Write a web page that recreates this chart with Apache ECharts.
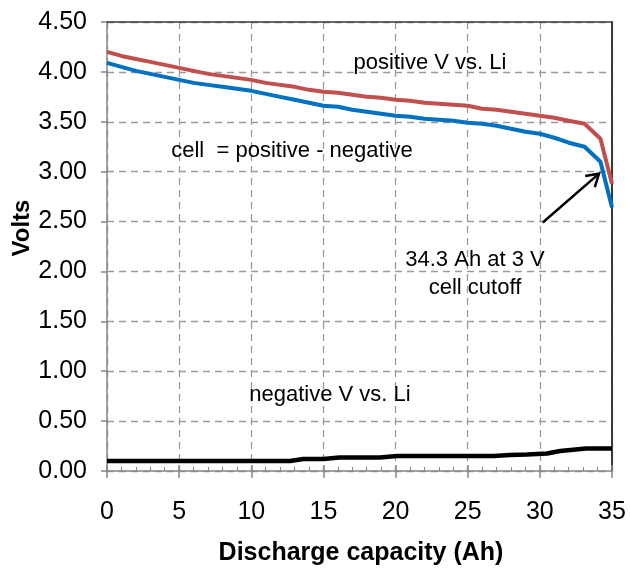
<!DOCTYPE html>
<html>
<head>
<meta charset="utf-8">
<script src="https://cdn.jsdelivr.net/npm/echarts@6/dist/echarts.min.js"></script>
<style>html,body{margin:0;padding:0;background:#fff}#c{width:630px;height:568px}</style>
</head>
<body>
<div id="c"></div>
<script>
var xPos = [0,1,2,3,4,5,6,7,8,9,10,11,12,13,14,15,16,17,18,19,20,21,22,23,24,25,26,27,28,29,30,31,32,33.1,34.2,35];
var posV = [4.20,4.16,4.13,4.10,4.07,4.04,4.01,3.98,3.96,3.94,3.92,3.89,3.87,3.85,3.82,3.80,3.79,3.77,3.75,3.74,3.72,3.71,3.69,3.68,3.67,3.66,3.63,3.62,3.60,3.58,3.56,3.54,3.51,3.48,3.33,2.88];
var xCell = [0,1,2,3,4,5,6,7,8,9,10,11,12,13,14,15,16,17,18,19,20,21,22,23,24,25,26,27,28,29,30,31,32,33.1,34.2,35];
var cellV = [4.09,4.05,4.01,3.98,3.95,3.92,3.89,3.87,3.85,3.83,3.81,3.78,3.75,3.72,3.69,3.66,3.65,3.62,3.60,3.58,3.56,3.55,3.53,3.52,3.51,3.49,3.48,3.46,3.43,3.40,3.38,3.34,3.29,3.25,3.10,2.64];
var xNeg = [0,12.7,13.6,15,16.1,18.9,20.1,26.8,27.9,29.1,30.5,31.4,33.2,35];
var negV = [0.10,0.10,0.12,0.12,0.135,0.135,0.15,0.15,0.16,0.165,0.175,0.20,0.225,0.225];
var xTicks = [0,5,10,15,20,25,30,35];
var yTicks = ['0.00','0.50','1.00','1.50','2.00','2.50','3.00','3.50','4.00','4.50'];
var arrowTail = [30.2, 2.49];
var arrowTip = [34.1, 2.98];

function pairs(xs, ys){ return xs.map(function(x,i){ return [x, ys[i]]; }); }

var FONT = 'Liberation Sans';
var chart = echarts.init(document.getElementById('c'), null, {renderer:'canvas'});
var grid = {left:107, right:18, top:22, bottom:97};
var gridColor = '#9a9a9a';
chart.setOption({
  animation:false,
  grid: grid,
  xAxis: [
    {type:'value', min:0, max:35, interval:5, position:'bottom',
     axisLine:{show:true, onZero:false, lineStyle:{color:'#868686', width:1.5}},
     axisTick:{show:true, inside:false, length:7, lineStyle:{color:'#868686', width:1.5}},
     axisLabel:{show:true, margin:29, fontFamily:FONT, fontSize:25, color:'#000',
       formatter:function(v){ return xTicks.indexOf(v) >= 0 ? String(v) : ''; }},
     splitLine:{show:true, lineStyle:{color:gridColor, width:1.3, type:[7,5]}}},
    {type:'value', min:0, max:35, interval:5, position:'bottom',
     axisLine:{show:false, onZero:false},
     axisTick:{show:true, inside:true, length:6, lineStyle:{color:'#868686', width:1.5}},
     minorTick:{show:true, splitNumber:5, length:4, lineStyle:{color:'#868686', width:1}},
     axisLabel:{show:false}, splitLine:{show:false}},
    {type:'value', min:0, max:35, interval:5, position:'top',
     axisLine:{show:true, onZero:false, lineStyle:{color:'#3a3a3a', width:1.5}},
     axisTick:{show:false}, axisLabel:{show:false}, splitLine:{show:false}}
  ],
  yAxis: [
    {type:'value', min:0, max:4.5, interval:0.5, position:'left',
     axisLine:{show:true, onZero:false, lineStyle:{color:'#868686', width:1.5}},
     axisTick:{show:true, inside:false, length:6, lineStyle:{color:'#868686', width:1.5}},
     axisLabel:{show:true, margin:20, fontFamily:FONT, fontSize:25, color:'#000',
       formatter:function(v){ return yTicks[Math.round(v/0.5)] || ''; }},
     splitLine:{show:true, lineStyle:{color:gridColor, width:1.3, type:[7,5]}}},
    {type:'value', min:0, max:4.5, interval:0.5, position:'right',
     axisLine:{show:true, onZero:false, lineStyle:{color:'#3a3a3a', width:2}},
     axisTick:{show:false}, axisLabel:{show:false}, splitLine:{show:false}}
  ],
  series: [
    {name:'positive', type:'line', xAxisIndex:0, yAxisIndex:0, data:pairs(xPos,posV),
     showSymbol:false, symbol:'none', lineStyle:{color:'#C0504D', width:4}, z:3},
    {name:'cell', type:'line', xAxisIndex:0, yAxisIndex:0, data:pairs(xCell,cellV),
     showSymbol:false, symbol:'none', lineStyle:{color:'#0070C0', width:4}, z:4},
    {name:'negative', type:'line', xAxisIndex:0, yAxisIndex:0, data:pairs(xNeg,negV),
     showSymbol:false, symbol:'none', lineStyle:{color:'#000000', width:4.5}, z:4}
  ]
});

var tail = chart.convertToPixel({xAxisIndex:0, yAxisIndex:0}, arrowTail);
var tip = chart.convertToPixel({xAxisIndex:0, yAxisIndex:0}, arrowTip);
var ang = Math.atan2(tip[1]-tail[1], tip[0]-tail[0]);
var hl = 14, ha = 0.55;
var h1 = [tip[0]-hl*Math.cos(ang-ha), tip[1]-hl*Math.sin(ang-ha)];
var h2 = [tip[0]-hl*Math.cos(ang+ha), tip[1]-hl*Math.sin(ang+ha)];

function txt(t, x, y, opts){
  var s = {text:t, x:0, y:0, fill:'#000', font:'22px "'+FONT+'"', align:'center', verticalAlign:'middle'};
  if (opts) for (var k in opts) s[k] = opts[k];
  return {type:'text', x:x, y:y, style:s, z:10};
}
chart.setOption({
  graphic: [
    txt('positive V vs. Li', 430, 63),
    txt('cell  = positive - negative', 292, 151),
    txt('34.3 Ah at 3 V', 475, 260),
    txt('cell cutoff', 475, 288),
    txt('negative V vs. Li', 330, 395),
    {type:'text', x:22, y:228, rotation:Math.PI/2, z:10,
     style:{text:'Volts', fill:'#000', font:'bold 24px "'+FONT+'"', align:'center', verticalAlign:'middle'}},
    {type:'text', x:361, y:553, z:10,
     style:{text:'Discharge capacity (Ah)', fill:'#000', font:'bold 25px "'+FONT+'"', align:'center', verticalAlign:'middle'}},
    {type:'polyline', z:10, shape:{points:[tail, tip]}, style:{stroke:'#000', lineWidth:2.5, fill:null}},
    {type:'polyline', z:10, shape:{points:[h1, tip, h2]}, style:{stroke:'#000', lineWidth:2.5, fill:null, lineJoin:'miter'}}
  ]
});
</script>
</body>
</html>
